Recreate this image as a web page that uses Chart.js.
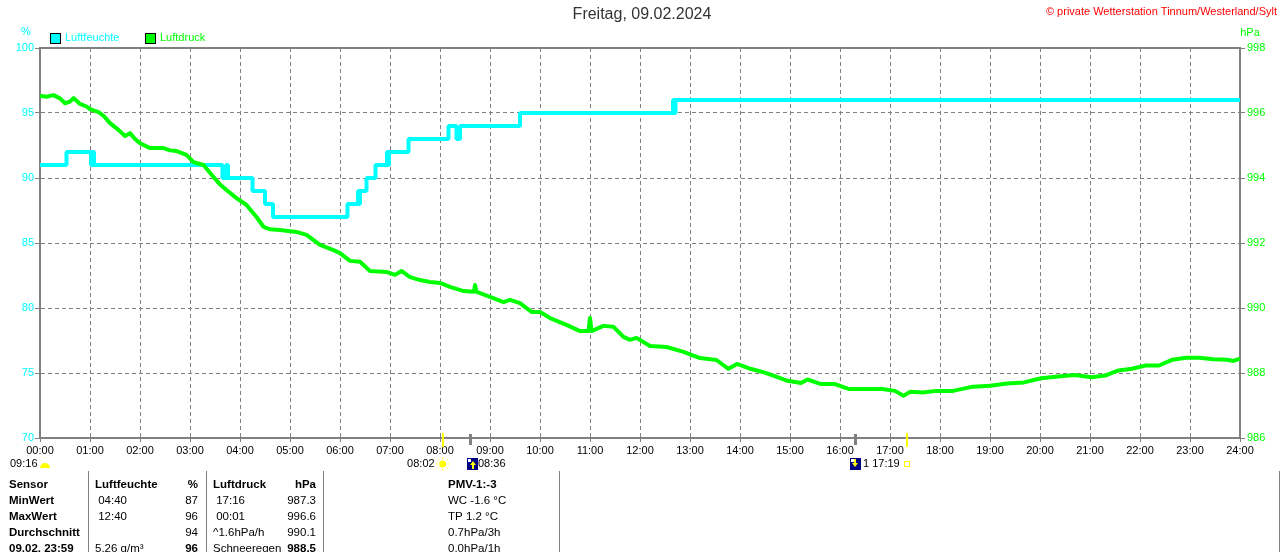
<!DOCTYPE html>
<html>
<head>
<meta charset="utf-8">
<title>Freitag, 09.02.2024</title>
<script src="https://cdn.jsdelivr.net/npm/chart.js@4.4.1/dist/chart.umd.min.js"></script>
<style>
html, body { margin: 0; padding: 0; background: #fff; }
canvas { display: block; }
</style>
</head>
<body>
<canvas id="wetterChart" width="1280" height="552"></canvas>
<script>
// Achsenbeschriftungen
const hourLabels = ['00:00','01:00','02:00','03:00','04:00','05:00','06:00','07:00','08:00','09:00','10:00','11:00','12:00',
  '13:00','14:00','15:00','16:00','17:00','18:00','19:00','20:00','21:00','22:00','23:00','24:00'];
const humidityTicks = [70, 75, 80, 85, 90, 95, 100];
const pressureTicks = [986, 988, 990, 992, 994, 996, 998];

// Luftfeuchte in % (Stufen: ab Zeitpunkt in Stunden gilt der neue Wert)
const humTimes  = [0,  0.53, 1.02, 1.05, 1.08, 3.65, 3.72, 3.76, 4.25, 4.5, 4.66, 6.15, 6.36, 6.38, 6.4, 6.53, 6.71, 6.94, 6.96, 6.98, 7.37, 8.17, 8.33, 8.4, 9.6, 12.66, 12.69, 12.71, 24];
const humValues = [91, 92,   91,   92,   91,   90,   91,   90,   89,   88,  87,   88,   89,   88,   89,  90,   91,   92,   91,   92,   93,   94,   93,   94,  95,  96,    95,    96,    96];

// Luftdruck in hPa (Stunde, Wert)
const pressTimes = [0, 0.13, 0.27, 0.4, 0.5, 0.6, 0.67, 0.8, 0.93, 1.0, 1.17, 1.28, 1.4, 1.57, 1.7, 1.8, 1.9, 2.0, 2.2, 2.47, 2.6, 2.73,
  2.93, 3.07, 3.27, 3.47, 3.6, 3.73, 3.93, 4.13, 4.33, 4.47, 4.6, 4.8, 5.13, 5.33, 5.6, 5.87, 6.0, 6.2, 6.4, 6.6, 6.93, 7.1, 7.23,
  7.4, 7.6, 7.8, 8.0, 8.2, 8.47, 8.68, 8.7, 8.73, 8.8, 9.0, 9.27, 9.4, 9.6, 9.83, 10.0, 10.2, 10.53, 10.8, 10.97, 11.0, 11.03, 11.27,
  11.47, 11.67, 11.8, 11.93, 12.2, 12.53, 12.87, 13.2, 13.53, 13.77, 13.94, 14.21, 14.48, 14.75, 14.95, 15.22, 15.35, 15.62, 15.9,
  16.17, 16.5, 16.84, 17.1, 17.27, 17.4, 17.65, 17.92, 18.26, 18.66, 19.0, 19.34, 19.68, 20.02, 20.36, 20.69, 21.03, 21.3, 21.57,
  21.84, 22.11, 22.38, 22.65, 22.92, 23.19, 23.46, 23.74, 23.87, 24.0];
const pressValues = [996.53, 996.5, 996.55, 996.45, 996.3, 996.35, 996.46, 996.28, 996.2, 996.12, 996.03, 995.9, 995.69, 995.48, 995.29,
  995.38, 995.2, 995.07, 994.92, 994.92, 994.85, 994.83, 994.71, 994.49, 994.4, 994.03, 993.8, 993.63, 993.38, 993.17, 992.8, 992.5,
  992.42, 992.4, 992.34, 992.25, 991.94, 991.78, 991.69, 991.45, 991.42, 991.14, 991.11, 991.02, 991.14, 990.95, 990.86, 990.8,
  990.77, 990.65, 990.52, 990.5, 990.71, 990.5, 990.46, 990.34, 990.18, 990.25, 990.15, 989.88, 989.88, 989.69, 989.48, 989.29,
  989.29, 989.69, 989.29, 989.45, 989.42, 989.11, 989.02, 989.08, 988.83, 988.8, 988.65, 988.46, 988.4, 988.13, 988.28, 988.13,
  988.02, 987.87, 987.76, 987.69, 987.8, 987.66, 987.66, 987.51, 987.51, 987.51, 987.45, 987.3, 987.42, 987.4, 987.45, 987.45,
  987.58, 987.61, 987.68, 987.71, 987.84, 987.89, 987.94, 987.87, 987.92, 988.08, 988.13, 988.23, 988.23, 988.41, 988.47, 988.47,
  988.42, 988.41, 988.37, 988.44];

// Sonne und Mond (Stunden)
const sunTimes  = [8.033, 17.317];   // Aufgang, Untergang
const moonTimes = [8.6, 16.3];       // Aufgang, Untergang
const dayLength = '09:16';

// Tabelle unter dem Diagramm
const tableRows = [
  ['Sensor', 'Luftfeuchte', '%', 'Luftdruck', 'hPa', 'PMV-1:-3'],
  ['MinWert', ' 04:40', '87', ' 17:16', '987.3', 'WC -1.6 °C'],
  ['MaxWert', ' 12:40', '96', ' 00:01', '996.6', 'TP 1.2 °C'],
  ['Durchschnitt', '', '94', '^1.6hPa/h', '990.1', '0.7hPa/3h'],
  ['09.02. 23:59', '5.26 g/m³', '96', 'Schneeregen', '988.5', '0.0hPa/1h']
];

const FONT = "'Liberation Sans', Arial, sans-serif";
const CYAN = '#00ffff';
const GREEN = '#00ff00';
const GRAY = '#808080';

const humPoints = humTimes.map((t, i) => ({ x: t, y: humValues[i] }));
const pressPoints = pressTimes.map((t, i) => ({ x: t, y: pressValues[i] }));

// Rahmen, Titel, Legende, Sonnen-/Mondzeiten und Tabelle
const decorations = {
  id: 'decorations',
  afterDraw(chart) {
    const ctx = chart.ctx;
    const a = chart.chartArea;
    const xs = chart.scales.x;
    ctx.save();

    // obere Rahmenlinie
    ctx.strokeStyle = GRAY;
    ctx.lineWidth = 2;
    ctx.beginPath();
    ctx.moveTo(a.left, a.top);
    ctx.lineTo(a.right + 1, a.top);
    ctx.stroke();

    // Titel
    ctx.textBaseline = 'middle';
    ctx.fillStyle = '#333';
    ctx.font = '16px ' + FONT;
    ctx.textAlign = 'center';
    ctx.fillText('Freitag, 09.02.2024', 642, 15);

    ctx.fillStyle = '#ff0000';
    ctx.font = '11px ' + FONT;
    ctx.textAlign = 'right';
    ctx.fillText('© private Wetterstation Tinnum/Westerland/Sylt', 1277, 12);

    // Einheiten
    ctx.font = '11px ' + FONT;
    ctx.textAlign = 'center';
    ctx.fillStyle = CYAN;
    ctx.fillText('%', 26, 32);
    ctx.fillStyle = GREEN;
    ctx.fillText('hPa', 1250, 33);

    // Legende
    const legend = [[CYAN, 'Luftfeuchte', 50], [GREEN, 'Luftdruck', 145]];
    ctx.textAlign = 'left';
    legend.forEach(([col, txt, x]) => {
      ctx.fillStyle = col;
      ctx.fillRect(x, 33, 10, 10);
      ctx.strokeStyle = '#000';
      ctx.lineWidth = 1;
      ctx.strokeRect(x + 0.5, 33.5, 10, 10);
      ctx.fillText(txt, x + 15, 38);
    });

    // Markierungen auf der Zeitachse
    sunTimes.forEach(t => {
      const px = Math.round(xs.getPixelForValue(t));
      ctx.fillStyle = '#ffff00';
      ctx.fillRect(px, 433, 2, 14);
    });
    moonTimes.forEach(t => {
      const px = Math.round(xs.getPixelForValue(t));
      ctx.fillStyle = GRAY;
      ctx.fillRect(px - 1, 434, 3, 11);
    });

    ctx.font = '11px ' + FONT;
    ctx.fillStyle = '#000';

    // Tageslänge
    ctx.textAlign = 'left';
    ctx.fillText(dayLength, 10, 464);
    ctx.fillStyle = '#ffff00';
    ctx.beginPath();
    ctx.arc(45, 468, 5, Math.PI, 0);
    ctx.fill();

    // Sonnenaufgang
    const sr = xs.getPixelForValue(sunTimes[0]) + 1;
    ctx.fillStyle = '#ffff00';
    ctx.beginPath();
    ctx.arc(sr, 464, 3.5, 0, Math.PI * 2);
    ctx.fill();
    ctx.strokeStyle = '#ffff00';
    ctx.lineWidth = 1;
    for (let k = 0; k < 8; k++) {
      const ang = k * Math.PI / 4;
      ctx.beginPath();
      ctx.moveTo(sr + Math.cos(ang) * 5, 464 + Math.sin(ang) * 5);
      ctx.lineTo(sr + Math.cos(ang) * 6.5, 464 + Math.sin(ang) * 6.5);
      ctx.stroke();
    }
    ctx.fillStyle = '#000';
    ctx.textAlign = 'right';
    ctx.fillText('08:02', sr - 8, 464);

    // Mond-Symbol
    const moonIcon = (x, up) => {
      ctx.fillStyle = '#000080';
      ctx.fillRect(x, 458, 11, 12);
      ctx.fillStyle = '#fff';
      ctx.fillRect(x + 1, 459, 3, 3);
      ctx.fillStyle = '#ffff00';
      ctx.beginPath();
      if (up) {
        ctx.moveTo(x + 6, 461); ctx.lineTo(x + 9, 465); ctx.lineTo(x + 3, 465);
      } else {
        ctx.moveTo(x + 5, 467); ctx.lineTo(x + 8, 463); ctx.lineTo(x + 2, 463);
      }
      ctx.fill();
      ctx.fillRect(up ? x + 5 : x + 4, up ? 465 : 459, 2, 4);
    };
    const mr = Math.round(xs.getPixelForValue(moonTimes[0])) - 3;
    moonIcon(mr, true);
    ctx.fillStyle = '#000';
    ctx.textAlign = 'left';
    ctx.fillText('08:36', mr + 11, 464);

    const ms = Math.round(xs.getPixelForValue(moonTimes[1])) - 5;
    moonIcon(ms, false);
    ctx.fillStyle = '#000';
    ctx.fillText('1 17:19', ms + 13, 464);
    const ss = Math.round(xs.getPixelForValue(sunTimes[1]));
    ctx.strokeStyle = '#ffff00';
    ctx.lineWidth = 1;
    ctx.strokeRect(ss - 1.5, 461.5, 5, 5);

    // Tabelle
    ctx.strokeStyle = GRAY;
    ctx.lineWidth = 1;
    [88, 206, 323, 559, 1279].forEach(x => {
      ctx.beginPath();
      ctx.moveTo(x + 0.5, 471);
      ctx.lineTo(x + 0.5, 552);
      ctx.stroke();
    });
    const rowY = [485, 501, 517, 533, 549];
    const colX = [9, 95, 198, 213, 316, 448];
    const colAlign = ['left', 'left', 'right', 'left', 'right', 'left'];
    tableRows.forEach((row, r) => {
      row.forEach((txt, c) => {
        const bold = r === 0 || c === 0 || (r === 4 && (c === 2 || c === 4));
        ctx.font = (bold ? 'bold ' : '') + '11.5px ' + FONT;
        ctx.textAlign = colAlign[c];
        ctx.fillStyle = '#000';
        ctx.fillText(txt, colX[c], rowY[r]);
      });
    });

    ctx.restore();
  }
};

new Chart(document.getElementById('wetterChart'), {
  type: 'line',
  data: {
    datasets: [
      {
        label: 'Luftfeuchte',
        data: humPoints,
        yAxisID: 'y',
        borderColor: CYAN,
        backgroundColor: CYAN,
        borderWidth: 4,
        borderJoinStyle: 'bevel',
        pointRadius: 0,
        stepped: true,
        order: 2
      },
      {
        label: 'Luftdruck',
        data: pressPoints,
        yAxisID: 'y1',
        borderColor: GREEN,
        backgroundColor: GREEN,
        borderWidth: 4,
        borderJoinStyle: 'round',
        pointRadius: 0,
        tension: 0,
        order: 1
      }
    ]
  },
  options: {
    responsive: false,
    animation: false,
    devicePixelRatio: 1,
    events: [],
    layout: { padding: { top: 48, left: 0, right: 0, bottom: 0 } },
    plugins: {
      legend: { display: false },
      tooltip: { enabled: false },
      title: { display: false }
    },
    scales: {
      x: {
        type: 'linear',
        min: 0,
        max: 24,
        afterFit: s => { s.height = 114; },
        afterBuildTicks: s => { s.ticks = hourLabels.map((l, i) => ({ value: i })); },
        ticks: {
          autoSkip: false,
          maxRotation: 0,
          padding: 2,
          color: '#000',
          font: { family: FONT, size: 11 },
          callback: v => hourLabels[v]
        },
        grid: { color: GRAY, lineWidth: 1, tickLength: 4 },
        border: { display: true, color: GRAY, width: 2, dash: [4, 3] }
      },
      y: {
        position: 'left',
        min: 70,
        max: 100,
        afterFit: s => { s.width = 40; },
        afterBuildTicks: s => { s.ticks = humidityTicks.map(v => ({ value: v })); },
        ticks: {
          padding: 1,
          color: CYAN,
          font: { family: FONT, size: 11 }
        },
        grid: { color: GRAY, lineWidth: 1, tickLength: 5, tickBorderDash: [] },
        border: { display: true, color: GRAY, width: 2, dash: [4, 3] }
      },
      y1: {
        position: 'right',
        min: 986,
        max: 998,
        afterFit: s => { s.width = 40; },
        afterBuildTicks: s => { s.ticks = pressureTicks.map(v => ({ value: v })); },
        ticks: {
          padding: 2,
          color: GREEN,
          font: { family: FONT, size: 11 }
        },
        grid: { drawOnChartArea: false, color: GRAY, tickLength: 5 },
        border: { display: true, color: GRAY, width: 2 }
      }
    }
  },
  plugins: [decorations]
});
</script>
</body>
</html>
